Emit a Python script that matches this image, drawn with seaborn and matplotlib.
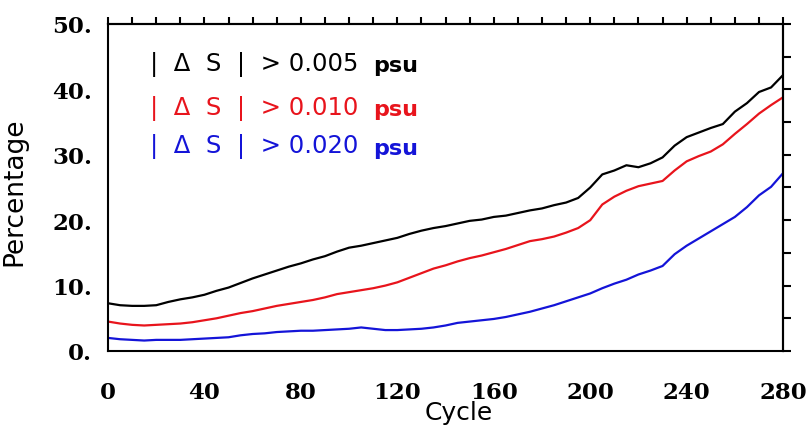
import numpy as np
import pandas as pd
import seaborn as sns
import matplotlib
matplotlib.use("Agg")
import matplotlib.pyplot as plt
from matplotlib.ticker import MultipleLocator, FuncFormatter, NullFormatter

# --- data (every 5 cycles) ---
cycles = list(range(0, 281, 5))

pct_005 = [7.3, 7.0, 6.9, 6.9, 7.0, 7.5, 7.9, 8.2, 8.6, 9.2,
           9.7, 10.4, 11.1, 11.7, 12.3, 12.9, 13.4, 14.0, 14.5, 15.2,
           15.8, 16.1, 16.5, 16.9, 17.3, 17.9, 18.4, 18.8, 19.1, 19.5,
           19.9, 20.1, 20.5, 20.7, 21.1, 21.5, 21.8, 22.3, 22.7, 23.4,
           25.0, 27.0, 27.6, 28.4, 28.1, 28.7, 29.6, 31.4, 32.7, 33.4,
           34.1, 34.7, 36.6, 37.9, 39.6, 40.3, 42.2]

pct_010 = [4.5, 4.2, 4.0, 3.9, 4.0, 4.1, 4.2, 4.4, 4.7, 5.0,
           5.4, 5.8, 6.1, 6.5, 6.9, 7.2, 7.5, 7.8, 8.2, 8.7,
           9.0, 9.3, 9.6, 10.0, 10.5, 11.2, 11.9, 12.6, 13.1, 13.7,
           14.2, 14.6, 15.1, 15.6, 16.2, 16.8, 17.1, 17.5, 18.1, 18.8,
           20.0, 22.4, 23.6, 24.5, 25.2, 25.6, 26.0, 27.6, 29.0, 29.8,
           30.5, 31.6, 33.2, 34.7, 36.3, 37.6, 38.8]

pct_020 = [2.0, 1.8, 1.7, 1.6, 1.7, 1.7, 1.7, 1.8, 1.9, 2.0,
           2.1, 2.4, 2.6, 2.7, 2.9, 3.0, 3.1, 3.1, 3.2, 3.3,
           3.4, 3.6, 3.4, 3.2, 3.2, 3.3, 3.4, 3.6, 3.9, 4.3,
           4.5, 4.7, 4.9, 5.2, 5.6, 6.0, 6.5, 7.0, 7.6, 8.2,
           8.8, 9.6, 10.3, 10.9, 11.7, 12.3, 13.0, 14.8, 16.1, 17.2,
           18.3, 19.4, 20.5, 22.0, 23.8, 25.1, 27.2]

thresholds = ["0.005", "0.010", "0.020"]
colors = ["#000000", "#e8141c", "#1414d8"]

df = pd.DataFrame({
    "Cycle": cycles * 3,
    "Percentage": pct_005 + pct_010 + pct_020,
    "thr": [t for t in thresholds for _ in cycles],
})

# --- plot ---
sns.set_theme(style="white")
plt.rcParams["font.family"] = ["DejaVu Sans"]

fig = plt.figure(figsize=(8.09, 4.31), dpi=100)
ax = fig.add_axes([0.1335, 0.1833, 0.8345, 0.7587])

sns.lineplot(data=df, x="Cycle", y="Percentage", hue="thr",
             palette=dict(zip(thresholds, colors)), linewidth=1.6,
             legend=False, ax=ax)

ax.set_xlim(0, 280)
ax.set_ylim(0, 50)
ax.xaxis.set_major_locator(MultipleLocator(40))
ax.xaxis.set_minor_locator(MultipleLocator(10))
ax.yaxis.set_major_locator(MultipleLocator(10))
ax.yaxis.set_minor_locator(MultipleLocator(5))
ax.yaxis.set_major_formatter(FuncFormatter(lambda v, p: f"{v:.0f}."))

for s in ax.spines.values():
    s.set_visible(True)
    s.set_color("black")
    s.set_linewidth(1.5)

ax.tick_params(which="both", top=False, right=False, colors="black",
               labelcolor="black", width=1.5)
ax.tick_params(which="major", direction="inout", length=11)
ax.tick_params(axis="x", which="major", pad=16)
ax.tick_params(axis="y", which="major", pad=6)
ax.tick_params(which="minor", direction="out", length=6)
for lab in ax.get_xticklabels() + ax.get_yticklabels():
    lab.set_fontfamily("DejaVu Serif")
    lab.set_fontweight("bold")
    lab.set_fontsize(16.5)

# small outward ticks on the top and right frame
top = ax.secondary_xaxis("top")
top.xaxis.set_major_locator(MultipleLocator(10))
top.xaxis.set_major_formatter(NullFormatter())
top.tick_params(direction="out", length=5, width=1.5, colors="black")
right = ax.secondary_yaxis("right")
right.yaxis.set_major_locator(MultipleLocator(5))
right.yaxis.set_major_formatter(NullFormatter())
right.tick_params(direction="out", length=6, width=1.5, colors="black")
for sec in (top, right):
    for s in sec.spines.values():
        s.set_linewidth(1.5)
        s.set_color("black")

ax.set_xlabel("Cycle", fontsize=18, color="black")
ax.xaxis.set_label_coords(0.52, -0.15)
ax.xaxis.label.set_va("top")
ax.set_ylabel("Percentage", fontsize=19, color="black")
ax.yaxis.set_label_coords(-0.12, 0.49)

# annotations
ys = [0.88, 0.745, 0.627]
for thr, c, y in zip(thresholds, colors, ys):
    ax.text(0.062, y, f"|  \u0394  S  |  > {thr}", color=c, fontsize=17.5,
            transform=ax.transAxes, va="center", ha="left")
    ax.text(0.393, y - 0.005, "psu", color=c, fontsize=16, fontweight="bold",
            transform=ax.transAxes, va="center", ha="left")

fig.savefig("out.png", dpi=100)
